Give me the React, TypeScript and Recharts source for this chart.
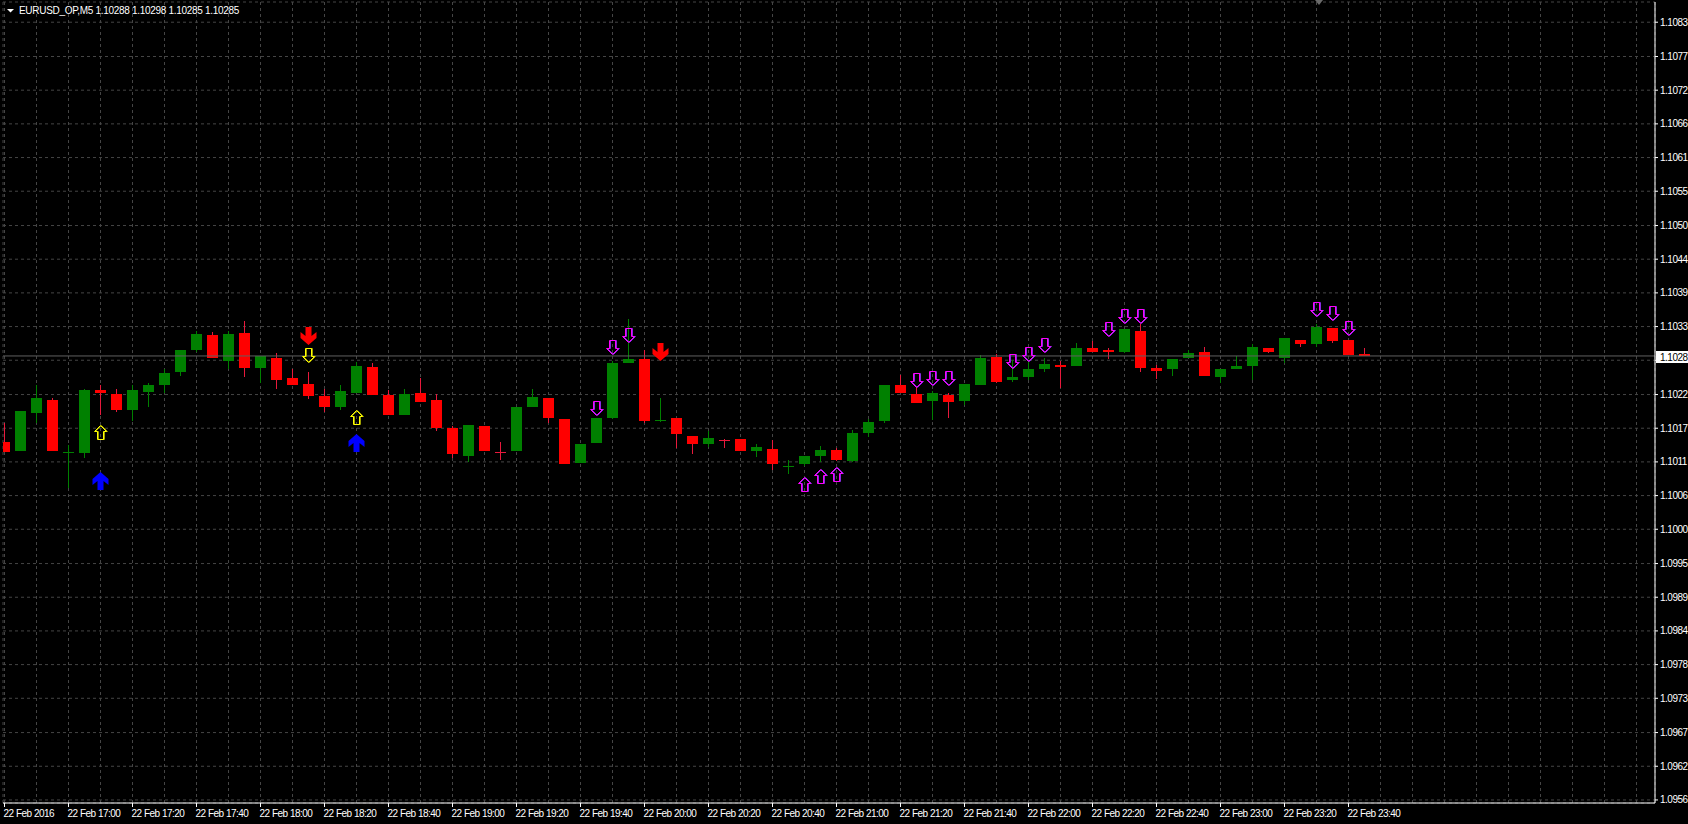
import { ComposedChart, Bar, Scatter, XAxis, YAxis, CartesianGrid, ReferenceLine } from 'recharts';

// EURUSD_OP M5 bars, 22 Feb 2016 16:40 .. 23:45 (one entry per bar)
const opens = [
  1.10145, 1.1013, 1.10192, 1.10213, 1.10128, 1.10127, 1.1023, 1.10223, 1.10197, 1.10226,
  1.10237, 1.10258, 1.10294, 1.10319, 1.10276, 1.10323, 1.10266, 1.10282, 1.10249, 1.10239,
  1.1022, 1.10202, 1.10225, 1.10267, 1.10221, 1.10189, 1.10224, 1.10213, 1.10167, 1.10122,
  1.10171, 1.10129, 1.10129, 1.10202, 1.10216, 1.10182, 1.10111, 1.10143, 1.10184, 1.10273,
  1.1028, 1.10181, 1.10183, 1.10154, 1.10141, 1.10149, 1.10149, 1.1013, 1.10133, 1.10106,
  1.10108, 1.10122, 1.10132, 1.10114, 1.1016, 1.10179, 1.10237, 1.10223, 1.10211, 1.10221,
  1.10212, 1.10237, 1.10283, 1.10245, 1.1025, 1.10264, 1.1027, 1.10268, 1.10298, 1.10295,
  1.10292, 1.10326, 1.10266, 1.10263, 1.10281, 1.10292, 1.1025, 1.10263, 1.10268, 1.10298,
  1.10281, 1.10311, 1.10304, 1.10331, 1.10311, 1.10288,
];
const highs = [
  1.10175, 1.10195, 1.10238, 1.10217, 1.10139, 1.10231, 1.10237, 1.10231, 1.10238, 1.10241,
  1.10264, 1.10295, 1.10326, 1.10324, 1.10325, 1.10342, 1.10285, 1.1029, 1.10264, 1.10259,
  1.10231, 1.10237, 1.10275, 1.10274, 1.1023, 1.10231, 1.10249, 1.10223, 1.10171, 1.10172,
  1.10171, 1.10144, 1.10202, 1.10231, 1.10216, 1.10182, 1.10141, 1.10184, 1.10277, 1.10345,
  1.10294, 1.10216, 1.10183, 1.10154, 1.10163, 1.10149, 1.10149, 1.10141, 1.10148, 1.10115,
  1.10121, 1.10138, 1.10134, 1.10164, 1.10182, 1.10237, 1.10254, 1.10236, 1.10228, 1.10225,
  1.10239, 1.10287, 1.10288, 1.10279, 1.10276, 1.10281, 1.10277, 1.10306, 1.1031, 1.10298,
  1.10329, 1.10337, 1.1027, 1.1028, 1.10295, 1.10299, 1.10264, 1.10285, 1.10305, 1.10298,
  1.10314, 1.10311, 1.10337, 1.10331, 1.10311, 1.10298,
];
const lows = [
  1.10128, 1.10129, 1.10175, 1.1013, 1.1007, 1.10118, 1.10189, 1.10194, 1.10178, 1.10201,
  1.10224, 1.10252, 1.10292, 1.10281, 1.10263, 1.10251, 1.10241, 1.10231, 1.10237, 1.10214,
  1.10194, 1.10197, 1.10224, 1.10222, 1.10189, 1.10189, 1.1021, 1.10163, 1.10119, 1.10112,
  1.1013, 1.10115, 1.10129, 1.10202, 1.10175, 1.10109, 1.10111, 1.10143, 1.10182, 1.10273,
  1.10175, 1.10177, 1.10134, 1.10125, 1.10136, 1.10134, 1.1013, 1.1012, 1.10098, 1.10092,
  1.10105, 1.10112, 1.10114, 1.10112, 1.10152, 1.10176, 1.10224, 1.10209, 1.10181, 1.10184,
  1.10205, 1.10237, 1.10241, 1.10243, 1.10245, 1.10258, 1.10233, 1.10268, 1.10292, 1.1028,
  1.1029, 1.10259, 1.10248, 1.10253, 1.10281, 1.10253, 1.10241, 1.10263, 1.10245, 1.1029,
  1.10273, 1.103, 1.103, 1.10306, 1.10287, 1.10285,
];
const closes = [
  1.10128, 1.10195, 1.10216, 1.1013, 1.1013, 1.1023, 1.10224, 1.10197, 1.1023, 1.10238,
  1.10257, 1.10295, 1.10321, 1.10281, 1.10321, 1.10266, 1.10285, 1.10246, 1.10237, 1.10219,
  1.10201, 1.10227, 1.10269, 1.10222, 1.10189, 1.10223, 1.1021, 1.10168, 1.10125, 1.10172,
  1.1013, 1.10128, 1.10202, 1.10218, 1.10184, 1.10109, 1.10141, 1.10184, 1.10274, 1.1028,
  1.10179, 1.10182, 1.10157, 1.10141, 1.10151, 1.10148, 1.1013, 1.10136, 1.10108, 1.10107,
  1.10121, 1.10132, 1.10115, 1.10159, 1.10177, 1.10237, 1.10224, 1.10209, 1.10224, 1.1021,
  1.10239, 1.10282, 1.10243, 1.10251, 1.10264, 1.10272, 1.10267, 1.10298, 1.10292, 1.10292,
  1.10329, 1.10266, 1.10261, 1.1028, 1.1029, 1.10253, 1.10264, 1.10269, 1.103, 1.10292,
  1.10314, 1.10305, 1.10332, 1.1031, 1.10287, 1.10285,
];

// indicator arrows: bar index + price of the arrow tip
const yellowUp = [{ bar: 6, price: 1.10172 }, { bar: 22, price: 1.10197 }];
const yellowDown = [{ bar: 19, price: 1.10275 }];
const blueUp = [{ bar: 6, price: 1.10096 }, { bar: 22, price: 1.10158 }];
const redDown = [{ bar: 19, price: 1.10303 }, { bar: 41, price: 1.10277 }];
const magentaUp = [
  { bar: 50, price: 1.10087 }, { bar: 51, price: 1.101 }, { bar: 52, price: 1.10103 },
];
const magentaDown = [
  { bar: 37, price: 1.10189 }, { bar: 38, price: 1.10288 }, { bar: 39, price: 1.10308 },
  { bar: 57, price: 1.10235 }, { bar: 58, price: 1.10238 }, { bar: 59, price: 1.10237 },
  { bar: 63, price: 1.10266 }, { bar: 64, price: 1.10277 }, { bar: 65, price: 1.10291 },
  { bar: 69, price: 1.10317 }, { bar: 70, price: 1.10339 }, { bar: 71, price: 1.10339 },
  { bar: 82, price: 1.10351 }, { bar: 83, price: 1.10344 }, { bar: 84, price: 1.1032 },
];

const timeTickBars = [0, 4, 8, 12, 16, 20, 24, 28, 32, 36, 40, 44, 48, 52, 56, 60, 64, 68, 72, 76, 80, 84];
const timeTickLabels = [
  '22 Feb 2016', '22 Feb 17:00', '22 Feb 17:20', '22 Feb 17:40', '22 Feb 18:00', '22 Feb 18:20',
  '22 Feb 18:40', '22 Feb 19:00', '22 Feb 19:20', '22 Feb 19:40', '22 Feb 20:00', '22 Feb 20:20',
  '22 Feb 20:40', '22 Feb 21:00', '22 Feb 21:20', '22 Feb 21:40', '22 Feb 22:00', '22 Feb 22:20',
  '22 Feb 22:40', '22 Feb 23:00', '22 Feb 23:20', '22 Feb 23:40',
];
const priceTicks = [
  1.0956, 1.09615, 1.0967, 1.09726, 1.09781, 1.09836, 1.09891, 1.09946, 1.10002, 1.10057,
  1.10112, 1.10167, 1.10222, 1.10278, 1.10333, 1.10388, 1.10443, 1.10498, 1.10554, 1.10609,
  1.10664, 1.10719, 1.10774, 1.1083,
];
const priceTickLabels = [
  '1.0956', '1.0962', '1.0967', '1.0973', '1.0978', '1.0984', '1.0989', '1.0995', '1.1000', '1.1006',
  '1.1011', '1.1017', '1.1022', '1.1028', '1.1033', '1.1039', '1.1044', '1.1050', '1.1055', '1.1061',
  '1.1066', '1.1072', '1.1077', '1.1083',
];
const lastPrice = 1.10285;
const lastPriceLabel = '1.1028';
const symbolName = 'EURUSD_OP,M5';

const X_DOMAIN = [-0.09375, 103.15625];
const Y_DOMAIN = [1.09555, 1.10863];
// vertical grid every second bar; time labels sit on every fourth
const gridBars = Array.from({ length: 52 }, (_, i) => i * 2);

const FONT = '"Liberation Sans", Arial, sans-serif';
const BULL = '#008000';
const BEAR = '#ff0000';
const BEAR_WICK = '#e8193c';

const candles = opens.map((open, i) => ({ bar: i, open, high: highs[i], low: lows[i], close: closes[i] }));

const Candle = (props: any) => {
  const { x, y, width, height, payload } = props;
  if (!payload) return <g />;
  const { open, close, high, low } = payload;
  const top = Math.min(y, y + height);
  const h = Math.abs(height);
  const span = high - low;
  const toY = (v: number) => (span > 0 ? top + ((high - v) / span) * h : top);
  const cx = x + width / 2;
  const up = close > open;
  const wick = up ? BULL : BEAR_WICK;
  const yTop = Math.round(toY(Math.max(open, close)));
  const yBot = Math.round(toY(Math.min(open, close)));
  const thin = yBot - yTop < 2;
  return (
    <g shapeRendering="crispEdges">
      <line x1={cx} x2={cx} y1={Math.round(top)} y2={Math.round(top + h)} stroke={wick} />
      <rect
        x={cx - 5.5}
        y={thin ? Math.round((yTop + yBot) / 2) : yTop}
        width={11}
        height={thin ? 1 : yBot - yTop}
        fill={thin ? wick : up ? BULL : BEAR}
      />
    </g>
  );
};

const hollowPts = (cx: number, t: number, dir: number) =>
  [
    [-3, 14], [3, 14], [3, 6], [6, 6], [0, 0], [-6, 6], [-3, 6],
  ]
    .map(([dx, dy]) => `${cx + dx},${t - dir * dy}`)
    .join(' ');

const solidPts = (cx: number, t: number, dir: number) =>
  [
    [-3, 18], [3, 18], [3, 9], [8, 13], [8, 7], [0, 0], [-8, 7], [-8, 13], [-3, 9],
  ]
    .map(([dx, dy]) => `${cx + dx},${t - dir * dy}`)
    .join(' ');

// dir = 1: pointing down (tip at the bottom), dir = -1: pointing up
const HollowArrow = ({ cx, cy, dir, color, inner }: any) => {
  const t = Math.round(cy) + 0.5;
  return (
    <g>
      <polygon points={hollowPts(cx + 1, t, dir)} fill="none" stroke={inner} strokeWidth={1} />
      <polygon points={hollowPts(cx, t, dir)} fill="none" stroke={color} strokeWidth={1} />
    </g>
  );
};

const SolidArrow = ({ cx, cy, dir, color }: any) => {
  const t = Math.round(cy);
  return <polygon points={solidPts(cx, t, dir)} fill={color} />;
};

// ticks come every 2 bars (for the grid); only every 4th gets a mark and a label
const TimeTick = (props: any) => {
  const { x, y, payload } = props;
  const i = timeTickBars.indexOf(payload.value);
  if (i < 0) return <g />;
  return (
    <g>
      <line x1={x} x2={x} y1={y - 6} y2={y - 2} stroke="#fff" shapeRendering="crispEdges" />
      <text x={x - 1} y={y} dy={8} fill="#fff" fontSize={10} fontFamily={FONT} letterSpacing={-0.5} textAnchor="start">
        {timeTickLabels[i]}
      </text>
    </g>
  );
};

const PriceTick = (props: any) => {
  const { x, y, payload } = props;
  const i = priceTicks.indexOf(payload.value);
  if (priceTickLabels[i] === lastPriceLabel) return <g />;
  return (
    <text x={x} y={y} dy={3.5} fill="#fff" fontSize={10} fontFamily={FONT} letterSpacing={-0.5} textAnchor="start">
      {priceTickLabels[i]}
    </text>
  );
};

const PriceTag = (props: any) => {
  const vb = props.viewBox || {};
  const x = (vb.x ?? 0) + (vb.width ?? 0);
  const y = Math.round(vb.y ?? 0);
  return (
    <g>
      <rect x={x + 1} y={y - 5} width={33} height={12} fill="#fff" />
      <text x={x + 5} y={y + 4.5} fill="#000" fontSize={10} fontFamily={FONT} letterSpacing={-0.5}>
        {lastPriceLabel}
      </text>
    </g>
  );
};

export default function App() {
  const n = closes.length - 1;
  const title = `${symbolName} ${opens[n].toFixed(5)} ${highs[n].toFixed(5)} ${lows[n].toFixed(5)} ${closes[n].toFixed(5)}`;
  return (
    <div style={{ position: 'absolute', left: 0, top: 0, width: 1688, height: 824, background: '#000', overflow: 'hidden' }}>
      <ComposedChart width={1688} height={824} data={candles} margin={{ top: 2, right: 0, bottom: 0, left: 3 }}>
        <CartesianGrid stroke="#454545" strokeDasharray="3 3" />
        <XAxis
          dataKey="bar"
          type="number"
          domain={X_DOMAIN}
          allowDataOverflow
          ticks={gridBars}
          interval={0}
          tick={<TimeTick />}
          tickSize={4}
          tickLine={false}
          axisLine={{ stroke: '#fff' }}
          height={21}
        />
        <XAxis
          xAxisId="frame"
          orientation="top"
          type="number"
          domain={X_DOMAIN}
          allowDataOverflow
          tick={false}
          tickLine={false}
          axisLine={{ stroke: '#fff' }}
          height={0}
        />
        <YAxis
          orientation="right"
          type="number"
          domain={Y_DOMAIN}
          allowDataOverflow
          ticks={priceTicks}
          interval={0}
          tick={<PriceTick />}
          tickSize={3}
          tickLine={{ stroke: '#fff' }}
          axisLine={{ stroke: '#fff' }}
          width={33}
        />
        <YAxis
          yAxisId="frame"
          orientation="left"
          type="number"
          domain={[0, 1]}
          tick={false}
          tickLine={false}
          axisLine={{ stroke: '#fff' }}
          width={0}
        />
        <ReferenceLine y={lastPrice} stroke="#606060" label={<PriceTag />} />
        <Bar
          dataKey={(d: any) => [d.low, d.high]}
          barSize={10}
          shape={(p: any) => <Candle {...p} />}
          isAnimationActive={false}
        />
        <Scatter data={yellowUp} dataKey="price" isAnimationActive={false}
          shape={(p: any) => <HollowArrow {...p} dir={-1} color="#ffff00" inner="#a0a000" />} />
        <Scatter data={yellowDown} dataKey="price" isAnimationActive={false}
          shape={(p: any) => <HollowArrow {...p} dir={1} color="#ffff00" inner="#a0a000" />} />
        <Scatter data={magentaUp} dataKey="price" isAnimationActive={false}
          shape={(p: any) => <HollowArrow {...p} dir={-1} color="#ff00ff" inner="#8a2be2" />} />
        <Scatter data={magentaDown} dataKey="price" isAnimationActive={false}
          shape={(p: any) => <HollowArrow {...p} dir={1} color="#ff00ff" inner="#8a2be2" />} />
        <Scatter data={blueUp} dataKey="price" isAnimationActive={false}
          shape={(p: any) => <SolidArrow {...p} dir={-1} color="#0000ff" />} />
        <Scatter data={redDown} dataKey="price" isAnimationActive={false}
          shape={(p: any) => <SolidArrow {...p} dir={1} color="#ff0000" />} />
      </ComposedChart>
      <svg width={1688} height={20} style={{ position: 'absolute', left: 0, top: 0, pointerEvents: 'none' }}>
        <polygon points="7,9 14,9 10.5,12.5" fill="#fff" />
        <text x={19} y={13.5} fill="#fff" fontSize={10} fontFamily={FONT} letterSpacing={-0.3}>
          {title}
        </text>
        <polygon points="1315,0 1323,0 1319,5" fill="#6a6a6a" />
      </svg>
    </div>
  );
}
